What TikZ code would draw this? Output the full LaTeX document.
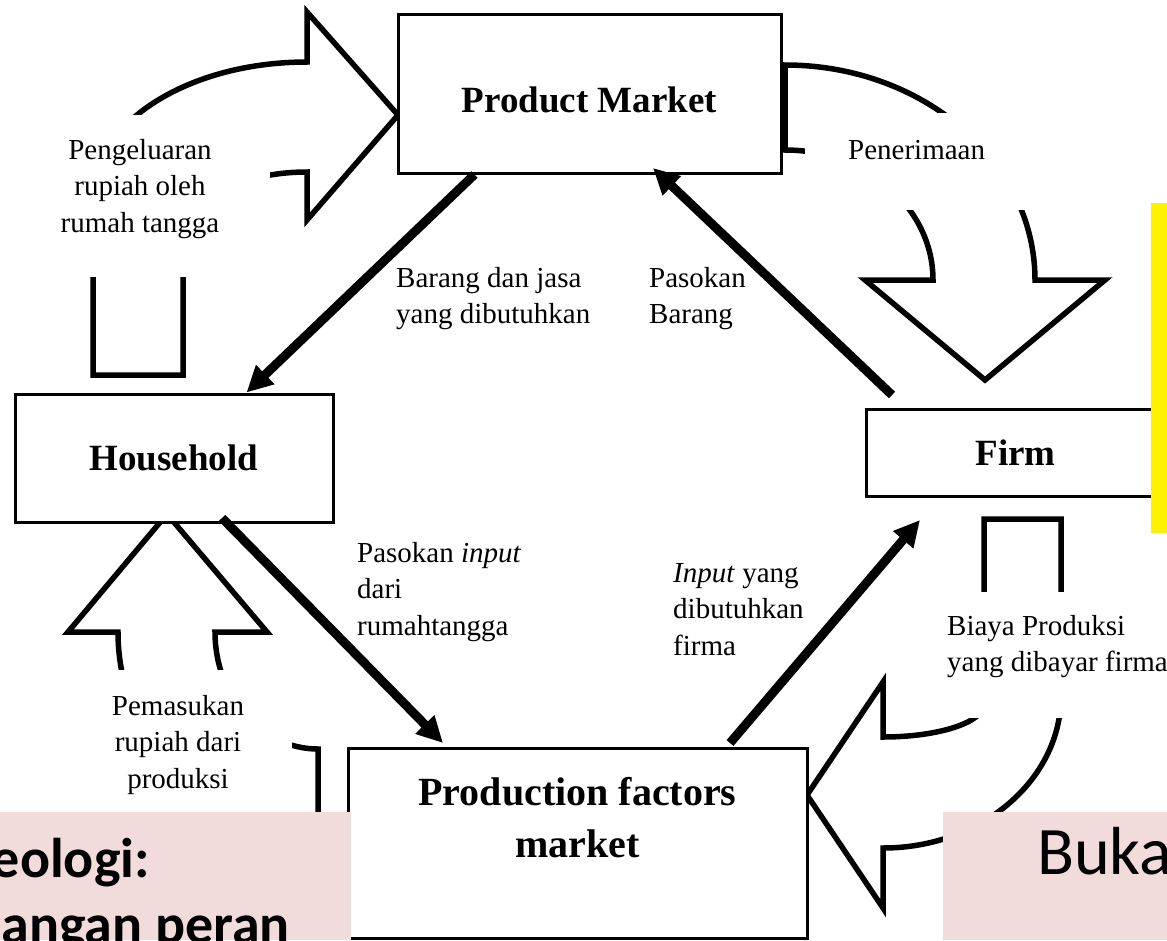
\documentclass[tikz,border=0pt]{standalone}
\usepackage{fontspec}
\setmainfont{Liberation Serif}
\newfontfamily\calibri{Carlito}
\usepackage{tikz}
\usetikzlibrary{arrows.meta}
\definecolor{pinkbox}{RGB}{242,220,219}

\begin{document}
\begin{tikzpicture}[x=1pt, y=-1pt,
        box_style/.style={rectangle, draw=black, fill=white, line width=3pt, font=\fontsize{37}{44}\selectfont\bfseries},
        label_style/.style={inner sep=0pt, font=\fontsize{29}{36.5}\selectfont},
        block_arrow_style/.style={draw=black, fill=white, line width=5.5pt, line join=miter},
        mask_style/.style={fill=white},
        flow_style/.style={draw=black, line width=9pt, -{Triangle[length=26pt,width=25pt]}},
        note_font/.style={inner sep=0pt, font=\calibri\fontsize{56}{66}\selectfont\bfseries}]

        \useasboundingbox (0,0) rectangle (1167,940);

        \draw [block_arrow_style] (93,375) -- (93,197) arc[start angle=180, end angle=270, x radius=214, y radius=135]
            -- (307,12) -- (398,115) -- (307,220) -- (307,172)
            arc[start angle=270, end angle=180, x radius=124, y radius=68] -- (183,375) -- cycle;

        \draw [block_arrow_style] (785,65) arc[start angle=270, end angle=360, x radius=250, y radius=215]
            -- (1105,280) -- (985,380) -- (865,280) -- (933,280)
            arc[start angle=0, end angle=-90, x radius=148, y radius=130] -- cycle;

        \draw [block_arrow_style] (1061,519) -- (1061,696) arc[start angle=0, end angle=90, x radius=178, y radius=152]
            -- (883,908) -- (807,795) -- (883,682) -- (883,737)
            arc[start angle=90, end angle=0, x radius=101, y radius=33] -- (984,519) -- cycle;

        \draw [block_arrow_style] (318,749) arc[start angle=90, end angle=180, x radius=103, y radius=117]
            -- (267,632) -- (167,514) -- (68,632) -- (118,632)
            arc[start angle=180, end angle=90, x radius=200, y radius=203] -- cycle;

        \fill [mask_style] (10,115) rectangle (270,277);
        \fill [mask_style] (805,113) rectangle (1029,210);
        \fill [mask_style] (60,670) rectangle (292,812);
        \fill [mask_style] (940,592) rectangle (1167,718);

        \node [label_style, anchor=north, align=center] (spend) at (140,139) {Pengeluaran\\rupiah oleh\\rumah tangga};

        \node [label_style, anchor=north west, align=left] (goods_need) at (396,267) {Barang dan jasa\\yang dibutuhkan};

        \node [label_style, anchor=north west, align=left] (goods_supply) at (649,267) {Pasokan\\Barang};

        \node [label_style, anchor=north west] (revenue) at (848,140) {Penerimaan};

        \node [label_style, anchor=north west, align=left] (input_supply) at (357,542) {Pasokan \textit{input}\\dari\\rumahtangga};

        \node [label_style, anchor=north west, align=left] (input_need) at (673,563) {\textit{Input} yang\\dibutuhkan\\firma};

        \node [label_style, anchor=north west, align=left] (cost) at (947,615) {Biaya Produksi\\yang dibayar firma};

        \node [label_style, anchor=north, align=center] (income) at (178,695) {Pemasukan\\rupiah dari\\produksi};

        \node [box_style, minimum width=383pt, minimum height=159pt, text height=39pt] (pm) at (589.5,93.5) {Product Market};

        \node [box_style, minimum width=318pt, minimum height=128pt] (hh) at (174,458) {Household};

        \node [box_style, minimum width=299pt, minimum height=87pt] (firm) at (1015.5,452.5) {Firm};

        \node [box_style, minimum width=459pt, minimum height=190pt, align=center, font=\fontsize{40}{52}\selectfont\bfseries] (pf) at (577.5,843) {Production factors\\market\rule[-51pt]{0pt}{51pt}};

        \draw [flow_style] ([xshift=78pt]pm.south west) -- ([xshift=233pt]hh.north west);

        \draw [flow_style] ([xshift=27.5pt, yshift=12.5pt]firm.north west) -- ([xshift=256.5pt, yshift=6.5pt]pm.south west);

        \draw [flow_style] ([xshift=208.5pt, yshift=5.5pt]hh.south west) -- ([xshift=96.5pt, yshift=3.5pt]pf.north west);

        \draw [flow_style] ([xshift=383.5pt, yshift=3.5pt]pf.north west) -- ([xshift=55.5pt, yshift=-22.5pt]firm.south west);

        \fill [yellow] (1151,203) rectangle (1167,533);

        \fill [pinkbox] (0,812) rectangle (351,940);
        \fill [pinkbox] (943,812) rectangle (1167,940);

        \node [note_font, anchor=base east] (idea_top) at (150,877) {eologi:};

        \node [note_font, anchor=base east] (idea_bottom) at (290,943) {angan peran};

        \node [inner sep=0pt, anchor=base west, font=\calibri\fontsize{68}{80}\selectfont] (open_top) at (1037,874) {Buka};

\end{tikzpicture}
\end{document}
